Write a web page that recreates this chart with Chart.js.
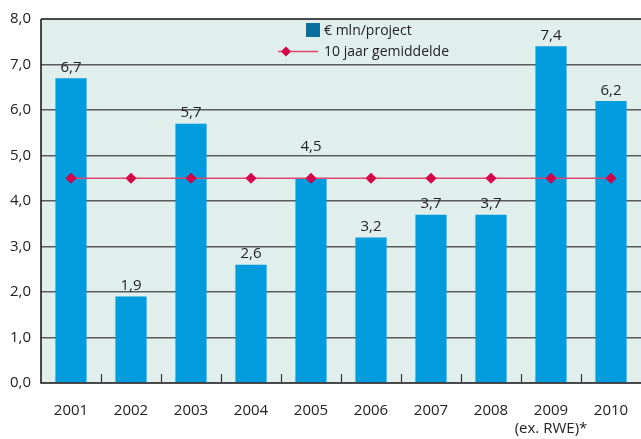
<!DOCTYPE html>
<html lang="nl">
<head>
  <meta charset="UTF-8" />
  <script src="https://cdn.jsdelivr.net/npm/chart.js"></script>
  <title>Investering per project</title>
  <style>
    * { padding: 0; margin: 0; }
    html, body { background: #fff; }
    .wrap { position: relative; width: 641px; height: 439px; }
  </style>
</head>
<body>
  <div class="wrap">
    <canvas id="projectChart" width="641" height="439" aria-label="Euro mln per project" role="img"></canvas>
  </div>

<script>
  // Data
  const years = ['2001', '2002', '2003', '2004', '2005', '2006', '2007', '2008', ['2009', '(ex. RWE)*'], '2010'];
  const perProject = [6.7, 1.9, 5.7, 2.6, 4.5, 3.2, 3.7, 3.7, 7.4, 6.2];
  const average = [4.5, 4.5, 4.5, 4.5, 4.5, 4.5, 4.5, 4.5, 4.5, 4.5];
  const yTicks = [0, 1, 2, 3, 4, 5, 6, 7, 8];

  const textColor = '#222';
  const font = "'Open Sans', 'DejaVu Sans', sans-serif";

  function comma(v, digits) {
    return v.toFixed(digits).replace('.', ',');
  }

  // plot background, inward x ticks, value labels and legend inside the plot
  const decor = {
    id: 'decor',
    beforeDraw(chart) {
      const { ctx, chartArea: a } = chart;
      ctx.save();
      ctx.fillStyle = '#e1efec';
      ctx.fillRect(a.left, a.top, a.right - a.left, a.bottom - a.top);
      ctx.restore();
    },
    afterDatasetsDraw(chart) {
      const { ctx, chartArea: a } = chart;
      const x = chart.scales.x;
      ctx.save();
      // frame
      ctx.strokeStyle = '#111';
      ctx.lineWidth = 1.5;
      ctx.beginPath();
      ctx.moveTo(a.left, a.top);
      ctx.lineTo(a.right, a.top);
      ctx.moveTo(a.left, a.top);
      ctx.lineTo(a.left, a.bottom);
      ctx.lineTo(a.right, a.bottom);
      ctx.stroke();

      // small tick marks between categories
      ctx.lineWidth = 1.2;
      ctx.strokeStyle = '#333';
      for (let i = 1; i < years.length; i++) {
        const px = Math.round((x.getPixelForValue(i - 1) + x.getPixelForValue(i)) / 2) + 0.5;
        ctx.beginPath();
        ctx.moveTo(px, a.bottom);
        ctx.lineTo(px, a.bottom - 9);
        ctx.stroke();
      }

      // value labels above bars
      const meta = chart.getDatasetMeta(1);
      ctx.fillStyle = textColor;
      ctx.font = '15px ' + font;
      ctx.textAlign = 'center';
      ctx.textBaseline = 'bottom';
      meta.data.forEach((bar, i) => {
        const lift = i === 4 ? 24 : 3;
        ctx.fillText(comma(perProject[i], 1), bar.x, bar.y - lift);
      });

      // legend
      ctx.fillStyle = '#0a6f9c';
      ctx.fillRect(306, 23, 14, 14);
      ctx.strokeStyle = '#e0456e';
      ctx.lineWidth = 1.5;
      ctx.beginPath();
      ctx.moveTo(278, 51.5);
      ctx.lineTo(318, 51.5);
      ctx.stroke();
      ctx.fillStyle = '#d4004a';
      ctx.beginPath();
      ctx.moveTo(286, 46.5);
      ctx.lineTo(291, 51.5);
      ctx.lineTo(286, 56.5);
      ctx.lineTo(281, 51.5);
      ctx.closePath();
      ctx.fill();
      ctx.fillStyle = textColor;
      ctx.font = '14px ' + font;
      ctx.textAlign = 'left';
      ctx.textBaseline = 'middle';
      ctx.fillText('€ mln/project', 324, 31);
      ctx.fillText('10 jaar gemiddelde', 324, 52);
      ctx.restore();
    }
  };

  const ctxEl = document.getElementById('projectChart');

  new Chart(ctxEl, {
    data: {
      labels: years,
      datasets: [
        {
          type: 'line',
          label: '10 jaar gemiddelde',
          data: average,
          borderColor: '#e0456e',
          borderWidth: 1.5,
          pointStyle: 'rectRot',
          pointRadius: 4.5,
          pointBackgroundColor: '#d4004a',
          pointBorderColor: '#d4004a',
          order: 0
        },
        {
          type: 'bar',
          label: '€ mln/project',
          data: perProject,
          backgroundColor: '#009cdd',
          categoryPercentage: 1,
          barPercentage: 0.52,
          order: 1
        }
      ]
    },
    options: {
      responsive: false,
      animation: false,
      layout: { autoPadding: false, padding: { top: 17, right: 0, left: 0, bottom: 0 } },
      plugins: {
        legend: { display: false },
        tooltip: { enabled: false }
      },
      scales: {
        x: {
          offset: true,
          grid: { display: false, drawTicks: false },
          border: { display: false },
          ticks: {
            color: textColor,
            font: { family: font, size: 15 },
            padding: 19,
            maxRotation: 0,
            autoSkip: false
          },
          afterFit(scale) {
            scale.height = 56;
            scale.paddingLeft = 0;
            scale.paddingRight = 0;
          }
        },
        y: {
          min: 0,
          max: 8,
          afterBuildTicks(scale) {
            scale.ticks = yTicks.map(v => ({ value: v }));
          },
          grid: {
            color: (c) => (c.tick && (c.tick.value === 0 || c.tick.value === 8)) ? 'rgba(0,0,0,0)' : '#5a5a5a',
            lineWidth: 1.5,
            drawTicks: false
          },
          border: { display: false },
          ticks: {
            color: textColor,
            font: { family: font, size: 15 },
            padding: 10,
            callback: (v) => comma(v, 1)
          },
          afterFit(scale) { scale.width = 41; }
        }
      }
    },
    plugins: [decor]
  });
</script>
</body>
</html>
